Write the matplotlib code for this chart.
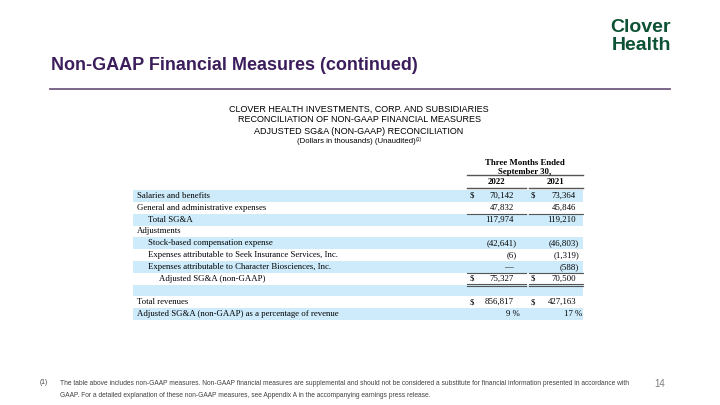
import matplotlib.pyplot as plt
from matplotlib.patches import Rectangle

# table data (dollars in thousands)
row_labels = ["Salaries and benefits", "General and administrative expenses", "Total SG&A",
              "Adjustments", "Stock-based compensation expense",
              "Expenses attributable to Seek Insurance Services, Inc.",
              "Expenses attributable to Character Biosciences, Inc.",
              "Adjusted SG&A (non-GAAP)", "", "Total revenues",
              "Adjusted SG&A (non-GAAP) as a percentage of revenue"]
indent = [0, 0, 1, 0, 1, 1, 1, 2, 0, 0, 0]
dollar_rows = [0, 7, 9]
pct_rows = [10]
years = ["2022", "2021"]
vals_2022 = [70142, 47832, 117974, None, -42641, -6, 0, 75327, None, 856817, 9]
vals_2021 = [73364, 45846, 119210, None, -46803, -1319, -588, 70500, None, 427163, 17]

title = "Non-GAAP Financial Measures (continued)"
heads = ["CLOVER HEALTH INVESTMENTS, CORP. AND SUBSIDIARIES",
         "RECONCILIATION OF NON-GAAP FINANCIAL MEASURES",
         "ADJUSTED SG&A (NON-GAAP) RECONCILIATION"]
note = ("The table above includes non-GAAP measures. Non-GAAP financial measures are supplemental and should not be considered a substitute for financial information presented in accordance with\n"
        "GAAP. For a detailed explanation of these non-GAAP measures, see Appendix A in the accompanying earnings press release.")

purple = "#3c1e5c"
green = "#0d5234"
shade = "#cdebfa"

fig = plt.figure(figsize=(7.2, 4.05), dpi=100)
ax = fig.add_axes([0, 0, 1, 1])
ax.set_xlim(0, 720)
ax.set_ylim(405, 0)
ax.axis("off")

# header
ax.text(51, 66, title, fontsize=13, fontweight="bold", color=purple,
        family="Liberation Sans", va="center", ha="left")
ax.plot([50, 670], [88.5, 88.5], color="#6f5a80", lw=1.3)
ax.text(671, 27, "Clover", fontsize=14, fontweight="bold", color=green,
        family="Liberation Sans", ha="right", va="center")
ax.text(671, 45, "Health", fontsize=14, fontweight="bold", color=green,
        family="Liberation Sans", ha="right", va="center")

for i, h in enumerate(heads):
    ax.text(359, 109 + i * 11, h, fontsize=6.5, family="Liberation Sans",
            ha="center", va="center")
ax.text(356, 141.5, "(Dollars in thousands) (Unaudited)", fontsize=5.6,
        family="Liberation Sans", ha="center", va="center")
ax.text(416, 139, "(1)", fontsize=3.6, family="Liberation Sans", ha="left", va="center")

# table
ser = "Liberation Serif"
fs = 6.3
x0, x1 = 133, 583
y_first, dy = 196, 11.8
col_dollar = [470, 531]
col_right = [514, 576]

ax.text(525, 163, "Three Months Ended", fontsize=fs, fontweight="bold", family=ser,
        ha="center", va="center")
ax.text(525, 171.5, "September 30,", fontsize=fs, fontweight="bold", family=ser,
        ha="center", va="center")
ax.plot([467, 583], [175, 175], color="#555555", lw=1)
for j, yr in enumerate(years):
    ax.text([496, 556][j], 182, yr, fontsize=fs, fontweight="bold", family=ser,
            ha="center", va="center")
ax.plot([467, 526], [188, 188], color="#555555", lw=1)
ax.plot([529, 583], [188, 188], color="#555555", lw=1)


def fmt(v):
    if v is None:
        return ""
    if v == 0:
        return "\u2014"
    if v < 0:
        return "({:,})".format(-v)
    return "{:,}".format(v)


for i, lab in enumerate(row_labels):
    y = y_first + i * dy
    if i % 2 == 0:
        ax.add_patch(Rectangle((x0, y - dy / 2), x1 - x0, dy, color=shade, lw=0, zorder=0))
    ax.text(137 + indent[i] * 11, y, lab, fontsize=fs, family=ser, ha="left", va="center")
    for j, v in enumerate([vals_2022[i], vals_2021[i]]):
        if v is None:
            continue
        s = fmt(v)
        xr = col_right[j]
        if i in pct_rows:
            s = s + " %"
            xr += 6
        elif v < 0:
            xr += 3
        elif v == 0:
            xr -= 1
        ax.text(xr, y, s, fontsize=fs, family=ser, ha="right", va="center")
        if i in dollar_rows:
            ax.text(col_dollar[j], y, "$", fontsize=fs, family=ser, ha="left", va="center")

# rules under total / adjusted rows
top2 = y_first + 2 * dy - dy / 2
top7 = y_first + 7 * dy - dy / 2
bot7 = y_first + 8 * dy - dy / 2
for a, b in [(467, 526), (529, 583)]:
    ax.plot([a, b], [top2, top2], color="#555555", lw=0.8)
    ax.plot([a, b], [top7, top7], color="#555555", lw=0.8)
    ax.plot([a, b], [bot7 - 1, bot7 - 1], color="#555555", lw=0.8)
    ax.plot([a, b], [bot7 + 1, bot7 + 1], color="#555555", lw=0.8)

# footnote
ax.text(40, 383, "(1)", fontsize=4.8, color="#404040", family="Liberation Sans",
        ha="left", va="center")
ax.text(60, 380, note, fontsize=4.75, color="#404040", family="Liberation Sans",
        ha="left", va="top", linespacing=1.95)
ax.text(665, 384, "14", fontsize=7, color="#7f7f7f", family="Liberation Sans",
        ha="right", va="center")

fig.savefig("out.png", dpi=100)
